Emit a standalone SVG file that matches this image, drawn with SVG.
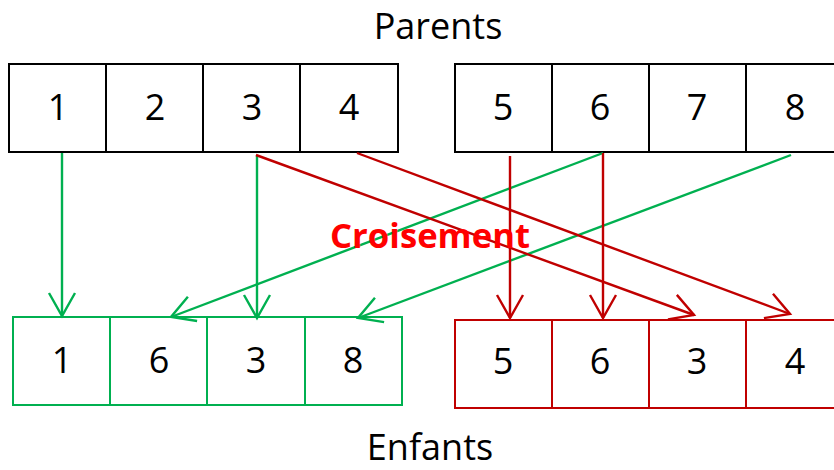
<svg xmlns="http://www.w3.org/2000/svg" width="834" height="470" viewBox="0 0 834 470">
<style>
.lbl{font-family:"Open Sans","Liberation Sans",sans-serif;font-size:36px;fill:#000;text-anchor:middle}
.num{font-family:"Open Sans","Liberation Sans",sans-serif;font-size:36px;fill:#000;text-anchor:middle}
.cell{fill:#fff;stroke-width:2}
.blk{stroke:#000}
.grn{stroke:#00B050}
.red{stroke:#C00000}
.g{stroke:#00B050;stroke-width:2.4;fill:none;marker-end:url(#ag)}
.r{stroke:#C00000;stroke-width:2.4;fill:none;marker-end:url(#ar)}
.title{font-family:"Open Sans","Liberation Sans",sans-serif;font-weight:bold;font-size:34px;fill:#FF0000;text-anchor:middle}
</style>
<defs>
<marker id="ag" markerUnits="userSpaceOnUse" viewBox="-26 -16 30 32" refX="0" refY="0" markerWidth="30" markerHeight="32" orient="auto">
<path d="M-23,-13 L0,0 L-23,13" fill="none" stroke="#00B050" stroke-width="2.4"/>
</marker>
<marker id="ar" markerUnits="userSpaceOnUse" viewBox="-26 -16 30 32" refX="0" refY="0" markerWidth="30" markerHeight="32" orient="auto">
<path d="M-23,-13 L0,0 L-23,13" fill="none" stroke="#C00000" stroke-width="2.4"/>
</marker>
</defs>
<rect width="834" height="470" fill="#fff"/>
<text class="lbl" x="438" y="39">Parents</text>
<text class="lbl" x="430" y="460">Enfants</text>

<g id="parent1">
<rect class="cell blk" x="9" y="64" width="97" height="88"/>
<rect class="cell blk" x="106" y="64" width="97" height="88"/>
<rect class="cell blk" x="203" y="64" width="97" height="88"/>
<rect class="cell blk" x="300" y="64" width="98" height="88"/>
<text class="num" x="58" y="120">1</text>
<text class="num" x="155" y="120">2</text>
<text class="num" x="252" y="120">3</text>
<text class="num" x="349" y="120">4</text>
</g>
<g id="parent2">
<rect class="cell blk" x="455" y="64" width="97" height="88"/>
<rect class="cell blk" x="552" y="64" width="97" height="88"/>
<rect class="cell blk" x="649" y="64" width="97" height="88"/>
<rect class="cell blk" x="746" y="64" width="98" height="88"/>
<text class="num" x="503" y="120">5</text>
<text class="num" x="600" y="120">6</text>
<text class="num" x="697" y="120">7</text>
<text class="num" x="795" y="120">8</text>
</g>
<g id="child1">
<rect class="cell grn" x="13" y="317" width="97" height="88"/>
<rect class="cell grn" x="110" y="317" width="97" height="88"/>
<rect class="cell grn" x="207" y="317" width="98" height="88"/>
<rect class="cell grn" x="305" y="317" width="97" height="88"/>
<text class="num" x="62" y="373">1</text>
<text class="num" x="159" y="373">6</text>
<text class="num" x="256" y="373">3</text>
<text class="num" x="353" y="373">8</text>
</g>
<g id="child2">
<rect class="cell red" x="455" y="320" width="97" height="88"/>
<rect class="cell red" x="552" y="320" width="97" height="88"/>
<rect class="cell red" x="649" y="320" width="97" height="88"/>
<rect class="cell red" x="746" y="320" width="98" height="88"/>
<text class="num" x="503" y="374">5</text>
<text class="num" x="600" y="374">6</text>
<text class="num" x="697" y="374">3</text>
<text class="num" x="795" y="374">4</text>
</g>

<g id="connectors">
<line class="g" x1="62" y1="153" x2="62" y2="316"/>
<line class="g" x1="257" y1="155" x2="257" y2="318"/>
<line class="g" x1="603" y1="153" x2="171" y2="317"/>
<line class="g" x1="791" y1="155" x2="358" y2="318"/>
<line class="r" x1="256" y1="155" x2="694" y2="315"/>
<line class="r" x1="357" y1="153" x2="790" y2="314"/>
<line class="r" x1="510" y1="156" x2="510" y2="318"/>
<line class="r" x1="603" y1="153" x2="603" y2="318"/>
</g>
<text class="title" x="430" y="248" textLength="200" lengthAdjust="spacingAndGlyphs">Croisement</text>
</svg>
